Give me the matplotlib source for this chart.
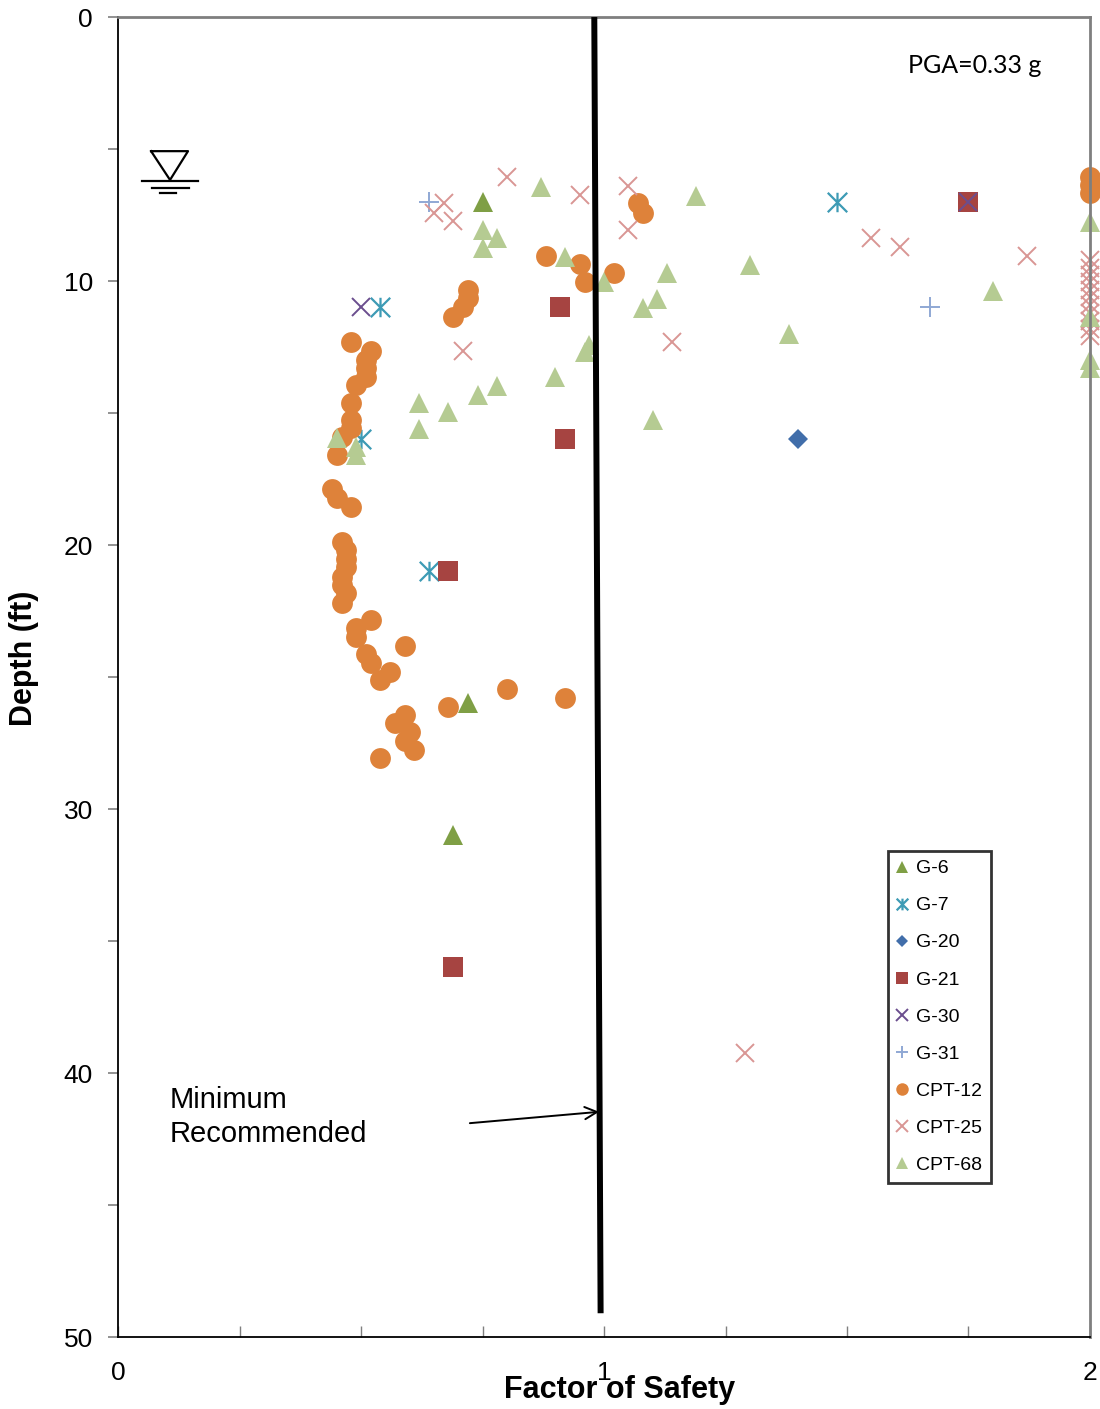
import matplotlib
matplotlib.use("Agg")
import matplotlib.pyplot as plt
from matplotlib.path import Path
from matplotlib.ticker import MultipleLocator, FixedLocator

plt.rcParams['font.family'] = ['Liberation Sans', 'DejaVu Sans']

# ---- factor of safety vs depth (ft) for each boring / sounding ----
g6_fs = [0.75, 0.72, 0.69]
g6_depth = [7, 26, 31]

g7_fs = [0.54, 0.50, 0.64, 1.48]
g7_depth = [11, 16, 21, 7]

g20_fs = [1.40]
g20_depth = [16]

g21_fs = [0.91, 0.92, 0.68, 1.75, 0.69]
g21_depth = [11, 16, 21, 7, 36]

g30_fs = [0.50, 1.75]
g30_depth = [11, 7]

g31_fs = [0.64, 1.67]
g31_depth = [7, 11]

cpt12_fs = [2.0, 2.0, 2.0, 1.07, 1.08, 0.88, 0.95, 0.96, 1.02,
            0.72, 0.72, 0.71, 0.69,
            0.48, 0.52, 0.51, 0.51, 0.51, 0.49, 0.48, 0.48, 0.48, 0.46, 0.45,
            0.44, 0.45, 0.48, 0.46, 0.47, 0.47, 0.47, 0.46, 0.46, 0.47, 0.46,
            0.52, 0.49, 0.49, 0.59, 0.51, 0.52, 0.56, 0.54, 0.80, 0.92, 0.68,
            0.59, 0.57, 0.60, 0.59, 0.61, 0.54]
cpt12_depth = [6.06, 6.36, 6.67, 7.05, 7.42, 9.05, 9.36, 10.04, 9.70,
               10.34, 10.64, 10.98, 11.36,
               12.31, 12.65, 12.99, 13.30, 13.64, 13.94, 14.62, 15.27, 15.57, 15.91, 16.59,
               17.88, 18.22, 18.56, 19.89, 20.19, 20.53, 20.83, 21.21, 21.52, 21.82, 22.20,
               22.84, 23.14, 23.48, 23.83, 24.13, 24.47, 24.81, 25.11, 25.45, 25.80, 26.14,
               26.44, 26.74, 27.08, 27.42, 27.77, 28.07]

cpt25_fs = [0.67, 0.65, 0.69, 0.80, 0.95, 1.05, 1.05, 0.71, 1.14,
            1.55, 1.61, 1.87, 1.29,
            2.0, 2.0, 2.0, 2.0, 2.0, 2.0, 2.0, 2.0, 2.0, 2.0, 2.0]
cpt25_depth = [7.05, 7.42, 7.73, 6.06, 6.74, 6.40, 8.07, 12.65, 12.31,
               8.37, 8.71, 9.05, 39.24,
               9.2, 9.5, 9.77, 10.04, 10.34, 10.6, 10.9, 11.2, 11.5, 11.8, 12.1]

cpt68_fs = [0.87, 0.75, 0.78, 0.75, 0.92, 1.00, 1.13, 1.08, 1.11, 0.97, 0.96,
            0.90, 0.78, 0.74, 0.62, 0.68, 0.62, 1.10, 0.45, 0.49, 0.49,
            1.19, 1.30, 1.38, 1.80, 2.0, 2.0, 2.0, 2.0]
cpt68_depth = [6.44, 8.07, 8.37, 8.75, 9.09, 10.04, 9.70, 11.02, 10.68, 12.42, 12.69,
               13.64, 13.98, 14.32, 14.62, 14.96, 15.61, 15.27, 15.95, 16.29, 16.59,
               6.78, 9.39, 12.01, 10.38, 7.77, 11.36, 12.99, 13.30]

# minimum recommended factor of safety line (fs, depth)
min_line_fs = [0.98, 0.993]
min_line_depth = [0.0, 49.1]

water_table_depth = 6.2
pga_text = "PGA=0.33 g"

# asterisk marker: vertical stroke plus an X
asterisk = Path([(0, -1), (0, 1), (-1, -1), (1, 1), (-1, 1), (1, -1)],
                [Path.MOVETO, Path.LINETO] * 3)

series = [
    ("G-6", g6_fs, g6_depth, dict(marker='^', color='#7F9F45', ms=14.5, mew=0)),
    ("G-7", g7_fs, g7_depth, dict(marker=asterisk, color='#3D9BB5', ms=14, mew=1.6)),
    ("G-20", g20_fs, g20_depth, dict(marker='D', color='#416EAA', ms=10.5, mew=0)),
    ("G-21", g21_fs, g21_depth, dict(marker='s', color='#A64441', ms=14.5, mew=0)),
    ("G-30", g30_fs, g30_depth, dict(marker='x', color='#6B4E8E', ms=13.5, mew=1.4)),
    ("G-31", g31_fs, g31_depth, dict(marker='+', color='#8FA8D4', ms=15, mew=1.4)),
    ("CPT-12", cpt12_fs, cpt12_depth, dict(marker='o', color='#DE823A', ms=15, mew=0)),
    ("CPT-25", cpt25_fs, cpt25_depth, dict(marker='x', color='#D99694', ms=13.5, mew=1.4)),
    ("CPT-68", cpt68_fs, cpt68_depth, dict(marker='^', color='#B5CB92', ms=14.5, mew=0)),
]

fig = plt.figure(figsize=(11, 14.09), dpi=100)
ax = fig.add_axes([0.1073, 0.0511, 0.8836, 0.9368])

handles = []
for name, fs, depth, st in series:
    h, = ax.plot(fs, depth, linestyle='none', label=name, clip_on=False,
                 marker=st['marker'], markersize=st['ms'], markeredgewidth=st['mew'],
                 color=st['color'], markerfacecolor=st['color'],
                 markeredgecolor=st['color'])
    handles.append(h)

ax.plot(min_line_fs, min_line_depth, color='black', linewidth=4.3, zorder=5,
        solid_capstyle='butt')

ax.set_xlim(0, 2)
ax.set_ylim(50, 0)

# axes frame
for side in ('left', 'bottom'):
    ax.spines[side].set_color('black')
    ax.spines[side].set_linewidth(1.3)
for side in ('top', 'right'):
    ax.spines[side].set_color('#7F7F7F')
    ax.spines[side].set_linewidth(2.0)

ax.yaxis.set_major_locator(FixedLocator([0, 10, 20, 30, 40, 50]))
ax.yaxis.set_minor_locator(FixedLocator([5, 15, 25, 35, 45]))
ax.tick_params(axis='y', which='both', direction='out', length=7, width=1.2,
               color='#7F7F7F', labelsize=19, pad=11)
ax.xaxis.set_major_locator(FixedLocator([0, 1, 2]))
ax.xaxis.set_minor_locator(MultipleLocator(0.25))
ax.tick_params(axis='x', which='both', direction='in', length=8, width=1.0,
               color='#7F7F7F', labelsize=19, pad=17)
ax.set_xticklabels(['0', '1', '2'])

ax.set_xlabel("Factor of Safety", fontsize=22, fontweight='bold')
ax.xaxis.set_label_coords(0.516, -0.029)
ax.set_ylabel("Depth (ft)", fontsize=22, fontweight='bold')
ax.yaxis.set_label_coords(-0.081, 0.514)

ax.text(1.899, 1.85, pga_text, fontsize=18, family=['Lato', 'DejaVu Sans'],
        ha='right', va='center')

# water table symbol
wt = water_table_depth
ax.plot([0.068, 0.144, 0.107, 0.068], [wt - 1.12, wt - 1.12, wt - 0.03, wt - 1.12],
        color='black', linewidth=1.6, clip_on=False)
ax.plot([0.049, 0.164], [wt + 0.01, wt + 0.01], color='black', linewidth=1.6)
ax.plot([0.070, 0.146], [wt + 0.28, wt + 0.28], color='black', linewidth=1.6)
ax.plot([0.086, 0.119], [wt + 0.47, wt + 0.47], color='black', linewidth=1.6)

# note with arrow pointing at the minimum line
ax.annotate("", xy=(0.99, 41.47), xytext=(0.724, 41.9),
            arrowprops=dict(arrowstyle='->', color='black', lw=1.4,
                            mutation_scale=22, shrinkA=0, shrinkB=0))
ax.text(0.107, 41.67, "Minimum\nRecommended", fontsize=21, ha='left', va='center',
        linespacing=1.25, family=['Liberation Sans', 'DejaVu Sans'])

leg = ax.legend(handles=handles, loc='lower left', bbox_to_anchor=(0.792, 0.117),
                fontsize=14, markerscale=0.6, handlelength=0.6, handletextpad=0.4,
                labelspacing=1.0, borderpad=0.45, frameon=True, fancybox=False,
                borderaxespad=0)
leg.get_frame().set_edgecolor('black')
leg.get_frame().set_linewidth(2)

fig.savefig("out.png", dpi=100)
